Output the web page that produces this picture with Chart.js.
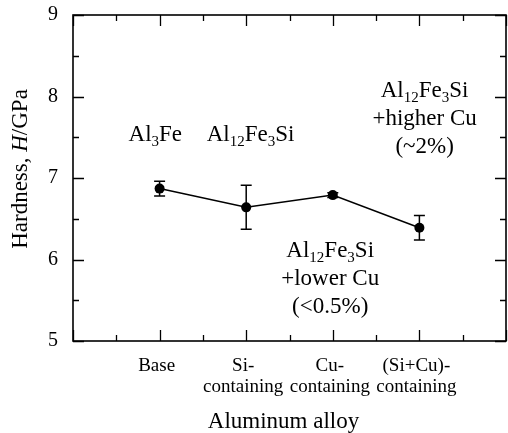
<!DOCTYPE html>
<html>
<head>
<meta charset="utf-8">
<script src="https://cdn.jsdelivr.net/npm/chart.js@4"></script>
<style>
html,body{margin:0;padding:0;background:#fff;}
#wrap{width:508px;height:433px;position:relative;}
</style>
</head>
<body>
<div id="wrap"><canvas id="c"></canvas></div>
<script>
// ---- data ----
const categories = [['Base'], ['Si-', 'containing'], ['Cu-', 'containing'], ['(Si+Cu)-', 'containing']];
const hardness = [6.87, 6.64, 6.79, 6.39];
const hardnessErr = [0.09, 0.27, 0.03, 0.15];
const yTicks = [5, 6, 7, 8, 9];
const xTitle = 'Aluminum alloy';
// annotation labels: segments [text, isSubscript]
const annotations = [
  { x: 0.95, y: 7.45, lines: [[['Al',0],['3',1],['Fe',0]]] },
  { x: 2.05, y: 7.45, lines: [[['Al',0],['12',1],['Fe',0],['3',1],['Si',0]]] },
  { x: 4.06, y: 8.0, lines: [[['Al',0],['12',1],['Fe',0],['3',1],['Si',0]], [['+higher Cu',0]], [['(~2%)',0]]] },
  { x: 2.97, y: 6.03, lines: [[['Al',0],['12',1],['Fe',0],['3',1],['Si',0]], [['+lower Cu',0]], [['(<0.5%)',0]]] }
];

const SERIF = '"Liberation Serif", "Times New Roman", serif';
const points = hardness.map((v, i) => ({ x: i + 1, y: v }));

function drawSegs(ctx, segs, cx, baseline, size) {
  const subSize = Math.round(size * 0.66);
  let total = 0;
  segs.forEach(([t, s]) => { ctx.font = (s ? subSize : size) + 'px ' + SERIF; total += ctx.measureText(t).width; });
  let x = cx - total / 2;
  ctx.textAlign = 'left';
  ctx.textBaseline = 'alphabetic';
  segs.forEach(([t, s]) => {
    ctx.font = (s ? subSize : size) + 'px ' + SERIF;
    ctx.fillText(t, x, baseline + (s ? size * 0.22 : 0));
    x += ctx.measureText(t).width;
  });
}

function zeroPad(s) { s.paddingTop = 0; s.paddingBottom = 0; s.paddingLeft = 0; s.paddingRight = 0; }

const deco = {
  id: 'deco',
  afterDatasetsDraw(chart) {
    const { ctx, chartArea: a, scales } = chart;
    const xs = scales.x, ys = scales.y;
    ctx.save();
    ctx.strokeStyle = '#000';
    ctx.fillStyle = '#000';
    // error bars
    ctx.lineWidth = 1.5;
    points.forEach((p, i) => {
      const px = xs.getPixelForValue(p.x);
      const t = ys.getPixelForValue(p.y + hardnessErr[i]);
      const b = ys.getPixelForValue(p.y - hardnessErr[i]);
      ctx.beginPath();
      ctx.moveTo(px, t); ctx.lineTo(px, b);
      ctx.moveTo(px - 5.5, t); ctx.lineTo(px + 5.5, t);
      ctx.moveTo(px - 5.5, b); ctx.lineTo(px + 5.5, b);
      ctx.stroke();
    });
    // frame
    ctx.lineWidth = 1.6;
    ctx.strokeRect(a.left, a.top, a.right - a.left, a.bottom - a.top);
    // ticks (inward)
    ctx.lineWidth = 1.3;
    ctx.beginPath();
    for (let v = xs.min; v <= xs.max + 1e-9; v += 0.5) {
      const px = Math.round(xs.getPixelForValue(v)) + 0.5;
      const len = Math.abs(v - Math.round(v)) < 1e-9 ? 11 : 6;
      ctx.moveTo(px, a.bottom); ctx.lineTo(px, a.bottom - len);
      ctx.moveTo(px, a.top); ctx.lineTo(px, a.top + len);
    }
    for (let v = ys.min; v <= ys.max + 1e-9; v += 0.5) {
      const py = Math.round(ys.getPixelForValue(v)) + 0.5;
      const len = Math.abs(v - Math.round(v)) < 1e-9 ? 11 : 6;
      ctx.moveTo(a.left, py); ctx.lineTo(a.left + len, py);
      ctx.moveTo(a.right, py); ctx.lineTo(a.right - len, py);
    }
    ctx.stroke();
    // annotations
    annotations.forEach(an => {
      const cx = xs.getPixelForValue(an.x);
      const by = ys.getPixelForValue(an.y);
      an.lines.forEach((segs, k) => drawSegs(ctx, segs, cx, by + k * 28, 23));
    });
    // x title
    ctx.font = '23px ' + SERIF;
    ctx.textAlign = 'center';
    ctx.textBaseline = 'alphabetic';
    ctx.fillText(xTitle, (a.left + a.right) / 2 - 6, 428);
    // y title (rotated, with italic H)
    ctx.translate(27, (a.top + a.bottom) / 2 - 9);
    ctx.rotate(-Math.PI / 2);
    const parts = [['Hardness, ', ''], ['H', 'italic '], ['/GPa', '']];
    let tw = 0;
    parts.forEach(([t, st]) => { ctx.font = st + '23px ' + SERIF; tw += ctx.measureText(t).width; });
    let x0 = -tw / 2;
    ctx.textAlign = 'left';
    parts.forEach(([t, st]) => { ctx.font = st + '23px ' + SERIF; ctx.fillText(t, x0, 0); x0 += ctx.measureText(t).width; });
    ctx.restore();
  }
};

new Chart(document.getElementById('c'), {
  type: 'line',
  data: {
    datasets: [{
      data: points,
      borderColor: '#000',
      backgroundColor: '#000',
      borderWidth: 1.5,
      pointRadius: 5,
      pointHoverRadius: 5,
      pointBackgroundColor: '#000',
      pointBorderWidth: 0,
      tension: 0
    }]
  },
  options: {
    responsive: true,
    maintainAspectRatio: false,
    animation: false,
    events: [],
    layout: { autoPadding: false, padding: { left: 0, right: 2, top: 15, bottom: 0 } },
    plugins: { legend: { display: false }, tooltip: { enabled: false } },
    scales: {
      x: {
        type: 'linear',
        min: 0, max: 5,
        afterBuildTicks: s => { s.ticks = [0, 1, 2, 3, 4, 5].map(v => ({ value: v })); },
        afterFit: s => { s.height = 92; zeroPad(s); },
        grid: { display: false, drawTicks: false },
        border: { display: false },
        ticks: {
          autoSkip: false,
          maxRotation: 0,
          padding: 14,
          labelOffset: -3,
          color: '#000',
          font: { family: SERIF, size: 19, lineHeight: 1.12 },
          callback: v => (v >= 1 && v <= categories.length) ? categories[v - 1] : ''
        }
      },
      y: {
        min: 5, max: 9,
        afterBuildTicks: s => { s.ticks = yTicks.map(v => ({ value: v })); },
        afterFit: s => { s.width = 73; zeroPad(s); },
        grid: { display: false, drawTicks: false },
        border: { display: false },
        ticks: {
          padding: 15,
          color: '#000',
          font: { family: SERIF, size: 20 },
          callback: v => String(v)
        }
      }
    }
  },
  plugins: [deco]
});
</script>
</body>
</html>
